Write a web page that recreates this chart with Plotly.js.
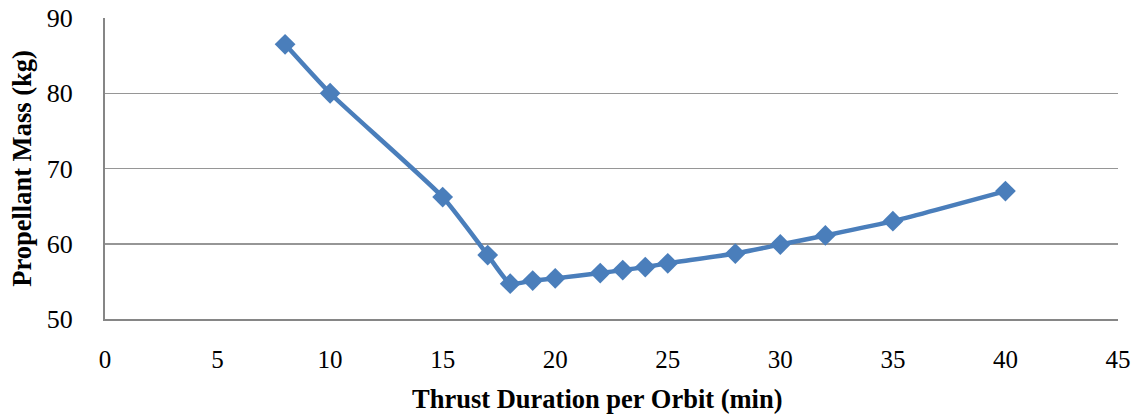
<!DOCTYPE html>
<html><head><meta charset="utf-8">
<script src="https://cdn.plot.ly/plotly-3.0.1.min.js"></script>
<style>html,body{margin:0;padding:0;background:#fff}#chart{width:1135px;height:416px}</style>
</head><body><div id="chart"></div>
<script>
const duration = [8, 10, 15, 17, 18, 19, 20, 22, 23, 24, 25, 28, 30, 32, 35, 40];
const mass = [86.5, 80.0, 66.2, 58.5, 54.7, 55.1, 55.4, 56.1, 56.5, 56.9, 57.4, 58.7, 59.9, 61.1, 63.0, 67.0];
const xTicks = [0, 5, 10, 15, 20, 25, 30, 35, 40, 45];
const yTicks = [50, 60, 70, 80, 90];

const trace = {
  x: duration, y: mass, type: 'scatter', mode: 'lines+markers',
  line: {color: '#4A7EBB', width: 4.5, shape: 'spline', smoothing: 0.5},
  marker: {symbol: 'diamond', size: 16, color: '#4A7EBB'},
  showlegend: false, hoverinfo: 'none'
};
const ff = '"Liberation Serif", "Times New Roman", serif';
const layout = {
  width: 1135, height: 416,
  margin: {l: 105, r: 17, t: 18, b: 97},
  paper_bgcolor: '#fff', plot_bgcolor: '#fff',
  font: {family: ff, color: '#000'},
  xaxis: {
    range: [0, 45], tickvals: xTicks, ticktext: xTicks.map(String),
    showgrid: false, zeroline: false, showline: true, linecolor: '#868686', linewidth: 2,
    ticks: '', tickfont: {size: 25, family: ff, color: '#000'}, ticklabelstandoff: 17
  },
  yaxis: {
    range: [50, 90], tickvals: yTicks, ticktext: yTicks.map(String),
    showgrid: true, gridcolor: '#969696', gridwidth: 1.5, zeroline: false,
    showline: true, linecolor: '#868686', linewidth: 2,
    ticks: '', tickfont: {size: 26, family: ff, color: '#000'}, ticklabelstandoff: 25,
    title: {text: '<b>Propellant Mass (kg)</b>', font: {size: 26.5, family: ff, color: '#000'}, standoff: 8}
  },
  annotations: [{
    text: '<b>Thrust Duration per Orbit (min)</b>', xref: 'paper', yref: 'paper',
    x: 0.4857, y: 0, yshift: -80, xanchor: 'center', yanchor: 'middle', showarrow: false,
    font: {size: 26.5, family: ff, color: '#000'}
  }]
};
Plotly.newPlot('chart', [trace], layout, {displayModeBar: false, staticPlot: true});
</script></body></html>
